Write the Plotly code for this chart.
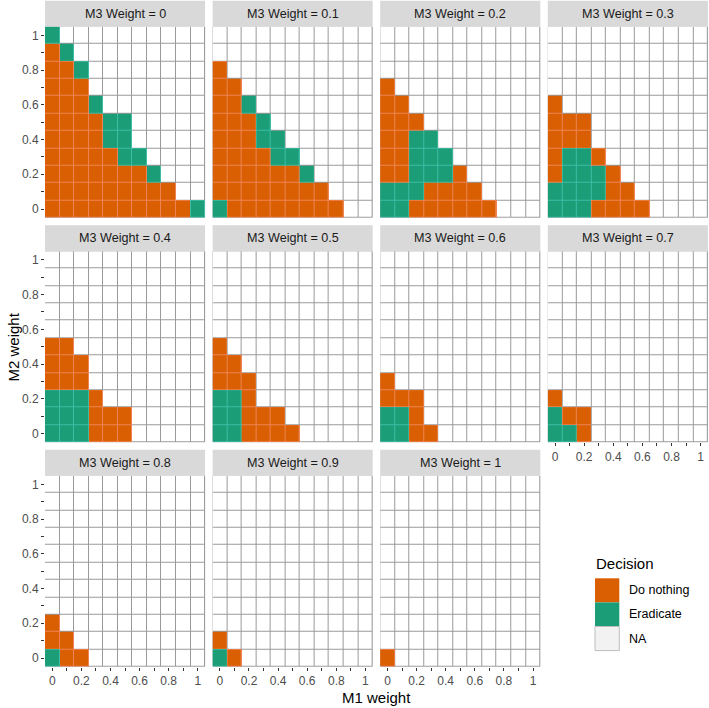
import plotly.graph_objects as go

# ---------------- data ----------------
m1_weight = [0, 0.1, 0.2, 0.3, 0.4, 0.5, 0.6, 0.7, 0.8, 0.9, 1]
m2_weight = [0, 0.1, 0.2, 0.3, 0.4, 0.5, 0.6, 0.7, 0.8, 0.9, 1]
m3_weight = [0, 0.1, 0.2, 0.3, 0.4, 0.5, 0.6, 0.7, 0.8, 0.9, 1]
tick_text = ["0", "", "0.2", "", "0.4", "", "0.6", "", "0.8", "", "1"]
decision_names = ["Do nothing", "Eradicate", "NA"]
decision_colors = ["#D95F02", "#1B9E77", "#F2F2F2"]

# rows from M2 = 1 (top) down to M2 = 0 (bottom); columns M1 = 0 .. 1
# D = Do nothing, E = Eradicate, . = NA
grid_m3_00 = ["E..........", "DE.........", "DDE........", "DDD........",
              "DDDE.......", "DDDDEE.....", "DDDDEE.....", "DDDDDEE....",
              "DDDDDDDE...", "DDDDDDDDD..", "DDDDDDDDDDE"]
grid_m3_01 = ["...........", "...........", "D..........", "DD.........",
              "DDE........", "DDDE.......", "DDDEE......", "DDDDEE.....",
              "DDDDDDE....", "DDDDDDDD...", "EDDDDDDDD.."]
grid_m3_02 = ["...........", "...........", "...........", "D..........",
              "DD.........", "DDD........", "DDEE.......", "DDEEE......",
              "DDEEED.....", "EEEDDDD....", "EEDDDDDD..."]
grid_m3_03 = ["...........", "...........", "...........", "...........",
              "D..........", "DDD........", "DDD........", "DEED.......",
              "DEEED......", "EEEEDD.....", "EEEDDDD...."]
grid_m3_04 = ["...........", "...........", "...........", "...........",
              "...........", "DD.........", "DDD........", "DDD........",
              "EEED.......", "EEEDDD.....", "EEEDDD....."]
grid_m3_05 = ["...........", "...........", "...........", "...........",
              "...........", "D..........", "DD.........", "DDD........",
              "EED........", "EEDDD......", "EEDDDD....."]
grid_m3_06 = ["...........", "...........", "...........", "...........",
              "...........", "...........", "...........", "D..........",
              "DDD........", "EED........", "EEDD......."]
grid_m3_07 = ["...........", "...........", "...........", "...........",
              "...........", "...........", "...........", "...........",
              "D..........", "EDD........", "EED........"]
grid_m3_08 = ["...........", "...........", "...........", "...........",
              "...........", "...........", "...........", "...........",
              "D..........", "DD.........", "EDD........"]
grid_m3_09 = ["...........", "...........", "...........", "...........",
              "...........", "...........", "...........", "...........",
              "...........", "D..........", "ED........."]
grid_m3_10 = ["...........", "...........", "...........", "...........",
              "...........", "...........", "...........", "...........",
              "...........", "...........", "D.........."]

grids = [grid_m3_00, grid_m3_01, grid_m3_02, grid_m3_03, grid_m3_04, grid_m3_05,
         grid_m3_06, grid_m3_07, grid_m3_08, grid_m3_09, grid_m3_10]

# ---------------- layout geometry (window pixels) ----------------
W, H = 709, 708
LEFT, PANEL_W, GAP_X = 45, 160.1, 7.5
TOP, PANEL_H, STRIP_H, GAP_Y = 26.7, 191, 26, 7.5
FONT = "Liberation Sans, Arial, Helvetica, sans-serif"

def fx(p):
    return p / W

def fy(p):
    return 1 - p / H

main_scale = [[0, decision_colors[0]], [0.5, decision_colors[0]],
              [0.5, decision_colors[1]], [1, decision_colors[1]]]
light_scale = [[0, "#EE8456"], [0.5, "#EE8456"], [0.5, "#3FBCA6"], [1, "#3FBCA6"]]

fig = go.Figure()
shapes, annotations = [], []
layout_axes = {}

for f, (m3, grid) in enumerate(zip(m3_weight, grids)):
    r, c = divmod(f, 4)
    x0 = LEFT + c * (PANEL_W + GAP_X)
    x1 = x0 + PANEL_W
    y_top = TOP + r * (PANEL_H + GAP_Y + STRIP_H)
    y_bot = y_top + PANEL_H
    n = f + 1
    xa = "x" if n == 1 else f"x{n}"
    ya = "y" if n == 1 else f"y{n}"

    rows = grid[::-1]
    z_na = [[1 if ch == "." else None for ch in row] for row in rows]
    z_dec = [[1 if ch == "D" else (2 if ch == "E" else None) for ch in row] for row in rows]

    fig.add_trace(go.Heatmap(x=m1_weight, y=m2_weight, z=z_na, zmin=0, zmax=1,
                             colorscale=[[0, "white"], [1, "white"]], showscale=False,
                             xgap=1, ygap=1, xaxis=xa, yaxis=ya, hoverinfo="skip"))
    fig.add_trace(go.Heatmap(x=m1_weight, y=m2_weight, z=z_dec, zmin=1, zmax=2,
                             colorscale=light_scale, showscale=False,
                             xaxis=xa, yaxis=ya, hoverinfo="skip"))
    fig.add_trace(go.Heatmap(x=m1_weight, y=m2_weight, z=z_dec, zmin=1, zmax=2,
                             colorscale=main_scale, showscale=False,
                             xgap=1, ygap=1, xaxis=xa, yaxis=ya, hoverinfo="skip"))

    bottom = (r == 2) or (r == 1 and c == 3)
    left = (c == 0)
    tickfont = dict(family=FONT, size=12, color="#4D4D4D")
    layout_axes["xaxis" if n == 1 else f"xaxis{n}"] = dict(
        domain=[fx(x0), fx(x1)], anchor=ya, range=[-0.05, 1.05],
        tickvals=m1_weight, ticktext=tick_text,
        showticklabels=bottom, ticks="outside" if bottom else "",
        ticklen=3, tickwidth=1, tickcolor="#333333", tickfont=tickfont,
        showgrid=False, zeroline=False, showline=False, fixedrange=True,
        automargin=False)
    layout_axes["yaxis" if n == 1 else f"yaxis{n}"] = dict(
        domain=[fy(y_bot), fy(y_top)], anchor=xa, range=[-0.05, 1.05],
        tickvals=m2_weight, ticktext=tick_text,
        showticklabels=left, ticks="outside" if left else "",
        ticklen=3, tickwidth=1, tickcolor="#333333", tickfont=tickfont,
        showgrid=False, zeroline=False, showline=False, fixedrange=True,
        automargin=False)

    # facet strip
    shapes.append(dict(type="rect", xref="paper", yref="paper",
                       x0=fx(x0), x1=fx(x1), y0=fy(y_top), y1=fy(y_top - STRIP_H),
                       fillcolor="#D9D9D9", line=dict(width=0), layer="below"))
    annotations.append(dict(text=f"M3 Weight = {m3:g}", xref="paper", yref="paper",
                            x=fx((x0 + x1) / 2), y=fy(y_top - STRIP_H / 2),
                            xanchor="center", yanchor="middle", showarrow=False,
                            font=dict(family=FONT, size=12.6, color="#1A1A1A")))

# axis titles
annotations.append(dict(text="M1 weight", xref="paper", yref="paper",
                        x=fx(376.5), y=fy(697), xanchor="center", yanchor="middle",
                        showarrow=False, font=dict(family=FONT, size=15, color="black")))
annotations.append(dict(text="M2 weight", xref="paper", yref="paper",
                        x=fx(13.5), y=fy(347), xanchor="center", yanchor="middle",
                        textangle=-90, showarrow=False,
                        font=dict(family=FONT, size=15, color="black")))

# legend (drawn manually to match ggplot key boxes)
annotations.append(dict(text="Decision", xref="paper", yref="paper",
                        x=fx(594), y=fy(563), xanchor="left", yanchor="middle",
                        showarrow=False, font=dict(family=FONT, size=15, color="black")))
key_x0, key_x1, key_top, key_h = 595, 619.3, 578.3, 24.1
for k, (name, col) in enumerate(zip(decision_names, decision_colors)):
    ty = key_top + k * key_h
    line = dict(width=1, color="#BDBDBD") if name == "NA" else dict(width=0)
    shapes.append(dict(type="rect", xref="paper", yref="paper",
                       x0=fx(key_x0), x1=fx(key_x1), y0=fy(ty + key_h), y1=fy(ty),
                       fillcolor=col, line=line))
    annotations.append(dict(text=name, xref="paper", yref="paper",
                            x=fx(626.5), y=fy(ty + key_h / 2), xanchor="left",
                            yanchor="middle", showarrow=False,
                            font=dict(family=FONT, size=12.5, color="black")))

fig.update_layout(width=W, height=H, margin=dict(l=0, r=0, t=0, b=0),
                  paper_bgcolor="white", plot_bgcolor="#9A9A9A",
                  showlegend=False, shapes=shapes, annotations=annotations,
                  font=dict(family=FONT), **layout_axes)

# remove the default 8px page margin so the 709x708 figure fills the window
fig.write_html("out.html", config={"displayModeBar": False},
               post_script="document.body.style.margin='0px';document.body.style.overflow='hidden';")
